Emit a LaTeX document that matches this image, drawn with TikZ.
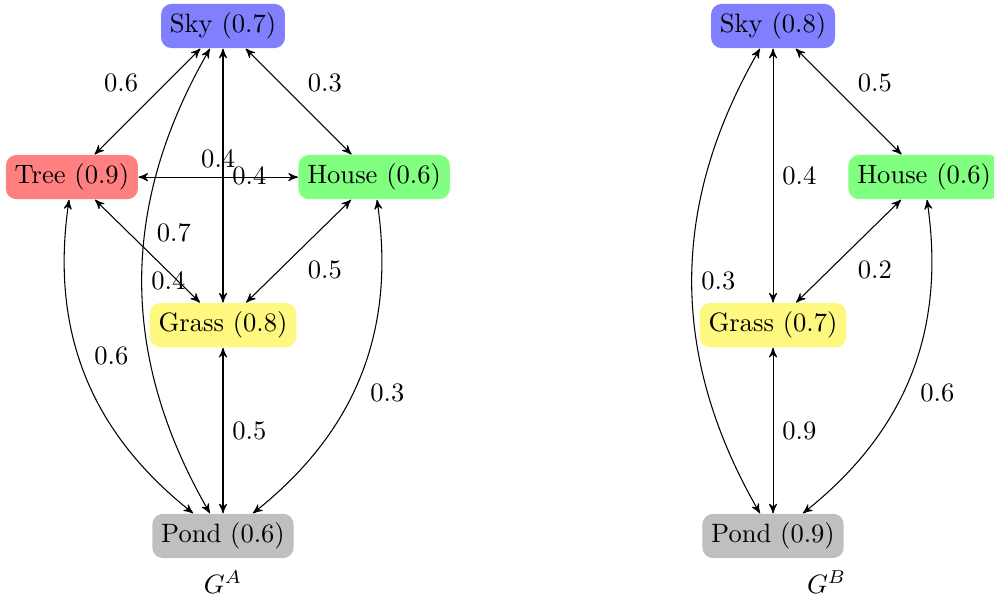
\documentclass[tikz,border=0pt]{standalone}
\usepackage{tikz}
\usetikzlibrary{positioning, arrows}

\begin{document}
\begin{tikzpicture}[
    node distance=2cm,
    on grid,
    auto,
    >=stealth',
    state/.style={rectangle, rounded corners, inner sep=0.3333em},
    sky/.style={state, fill=blue!50},
    tree/.style={state, fill=red!50},
    house/.style={state, fill=green!50},
    grass/.style={state, fill=yellow!50},
    pond/.style={state, fill=gray!50},
    link/.style={draw, <->}
]
    \useasboundingbox (-2.952,0.344) rectangle (10.205,-7.611);

    % Nodes (G^A)
    \node [sky] (skyA) {Sky (0.7)};
    \node [tree, below left=2cm and 2cm of skyA] (treeA) {Tree (0.9)};
    \node [house, below right=2cm and 2cm of skyA] (houseA) {House (0.6)};
    \node [grass, below=3.96cm of skyA] (grassA) {Grass (0.8)};
    \node [pond, below=6.75cm of skyA] (pondA) {Pond (0.6)};
    \node [below=0.61cm of pondA] (labelA) {$G^A$};

    % Nodes (G^B)
    \node [sky, right=7.28cm of skyA] (skyB) {Sky (0.8)};
    \node [house, below right=2cm and 2cm of skyB] (houseB) {House (0.6)};
    \node [grass, below=3.96cm of skyB] (grassB) {Grass (0.7)};
    \node [pond, below=6.75cm of skyB] (pondB) {Pond (0.9)};
    \node [below right=0.61cm and 0.71cm of pondB] (labelB) {$G^B$};

    % Paths (G^A)
    \path [link] (skyA) -- node[above left] {0.6} (treeA);
    \path [link] (skyA) -- node[above right] {0.3} (houseA);
    \path [link] (skyA) -- node[right] {0.4} (grassA);
    \path [link] (treeA) -- node[above] {0.4} (houseA);
    \path [link] (treeA) -- node[above right] {0.7} (grassA);
    \path [link] (houseA) -- node[below right] {0.5} (grassA);
    \path [link] (skyA) to[bend right=30] node[right] {0.4} (pondA);
    \path [link] (treeA) to[bend right=30] node[above right] {0.6} (pondA);
    \path [link] (houseA) to[bend left=30] node[below right] {0.3} (pondA);
    \path [link] (grassA) -- node[right] {0.5} (pondA);

    % Paths (G^B)
    \path [link] (skyB) -- node[above right] {0.5} (houseB);
    \path [link] (skyB) -- node[right] {0.4} (grassB);
    \path [link] (houseB) -- node[below right] {0.2} (grassB);
    \path [link] (skyB) to[bend right=30] node[right] {0.3} (pondB);
    \path [link] (houseB) to[bend left=30] node[below right] {0.6} (pondB);
    \path [link] (grassB) -- node[right] {0.9} (pondB);

\end{tikzpicture}
\end{document}
